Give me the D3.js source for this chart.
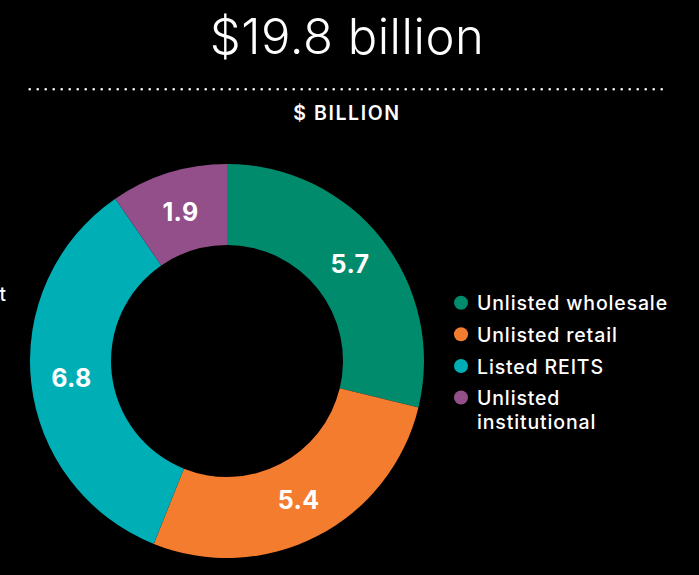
<!DOCTYPE html>
<html>
<head>
<meta charset="utf-8">
<script src="https://cdn.jsdelivr.net/npm/d3@7"></script>
<style>
  html, body { margin: 0; padding: 0; background: #000; }
  svg { display: block; }
</style>
</head>
<body>
<svg id="chart" width="699" height="575"></svg>
<script>
const categories = ["Unlisted wholesale", "Unlisted retail", "Listed REITS", "Unlisted institutional"];
const values = [5.7, 5.4, 6.8, 1.9];
const colors = ["#008B6D", "#F47C2E", "#00AEB6", "#934F8A"];
const legendLines = [["Unlisted wholesale"], ["Unlisted retail"], ["Listed REITS"], ["Unlisted", "institutional"]];
const title = "$19.8 billion";
const subtitle = "$ BILLION";

const W = 699, H = 575;
const svg = d3.select("#chart");
const font = "Inter, 'Noto Sans', sans-serif";

svg.append("rect").attr("width", W).attr("height", H).attr("fill", "#000");

// Title
svg.append("text")
  .attr("x", 347).attr("y", 54)
  .attr("text-anchor", "middle")
  .attr("fill", "#fff")
  .attr("font-family", font)
  .attr("font-weight", 300)
  .attr("font-size", 49)
  .attr("letter-spacing", 0.5)
  .text(title);

// Dotted rule
svg.append("line")
  .attr("x1", 29.7).attr("x2", 666.5)
  .attr("y1", 89.3).attr("y2", 89.3)
  .attr("stroke", "#fff")
  .attr("stroke-width", 2.6)
  .attr("stroke-linecap", "round")
  .attr("stroke-dasharray", "0 8");

svg.append("text")
  .attr("x", 347).attr("y", 120)
  .attr("text-anchor", "middle")
  .attr("fill", "#fff")
  .attr("font-family", font)
  .attr("font-weight", 600)
  .attr("font-size", 19.5)
  .attr("letter-spacing", 1.6)
  .text(subtitle);

// Cut-off fragment at left edge
svg.append("text")
  .attr("x", 6).attr("y", 301)
  .attr("text-anchor", "end")
  .attr("fill", "#fff")
  .attr("font-family", font)
  .attr("font-weight", 500)
  .attr("font-size", 19)
  .text("t");

// Donut
const cx = 227, cy = 361, rOuter = 197, rInner = 116;
const pie = d3.pie().sort(null).value(d => d)(values);
const arc = d3.arc().innerRadius(rInner).outerRadius(rOuter);
const labelArc = d3.arc().innerRadius((rInner + rOuter) / 2).outerRadius((rInner + rOuter) / 2);

const g = svg.append("g").attr("transform", `translate(${cx},${cy})`);
g.selectAll("path.slice")
  .data(pie)
  .join("path")
  .attr("class", "slice")
  .attr("d", arc)
  .attr("fill", (d, i) => colors[i]);

g.selectAll("text.val")
  .data(pie)
  .join("text")
  .attr("class", "val")
  .attr("transform", d => `translate(${labelArc.centroid(d)})`)
  .attr("text-anchor", "middle")
  .attr("dy", "0.36em")
  .attr("fill", "#fff")
  .attr("font-family", font)
  .attr("font-weight", 700)
  .attr("font-size", 25)
  .attr("letter-spacing", 0.4)
  .text(d => d.data.toFixed(1));

// Legend
const lg = svg.append("g").attr("transform", "translate(461,0)");
const rowY = [302.7, 334.3, 366, 397.5];
categories.forEach((c, i) => {
  const row = lg.append("g").attr("transform", `translate(0,${rowY[i]})`);
  row.append("circle").attr("r", 7).attr("fill", colors[i]);
  const t = row.append("text")
    .attr("x", 16).attr("y", 7.5)
    .attr("fill", "#fff")
    .attr("font-family", font)
    .attr("font-weight", 500)
    .attr("font-size", 19.5)
    .attr("letter-spacing", 0.85);
  legendLines[i].forEach((ln, j) => {
    t.append("tspan").attr("x", 16).attr("dy", j === 0 ? 0 : 24).text(ln);
  });
});
</script>
</body>
</html>
